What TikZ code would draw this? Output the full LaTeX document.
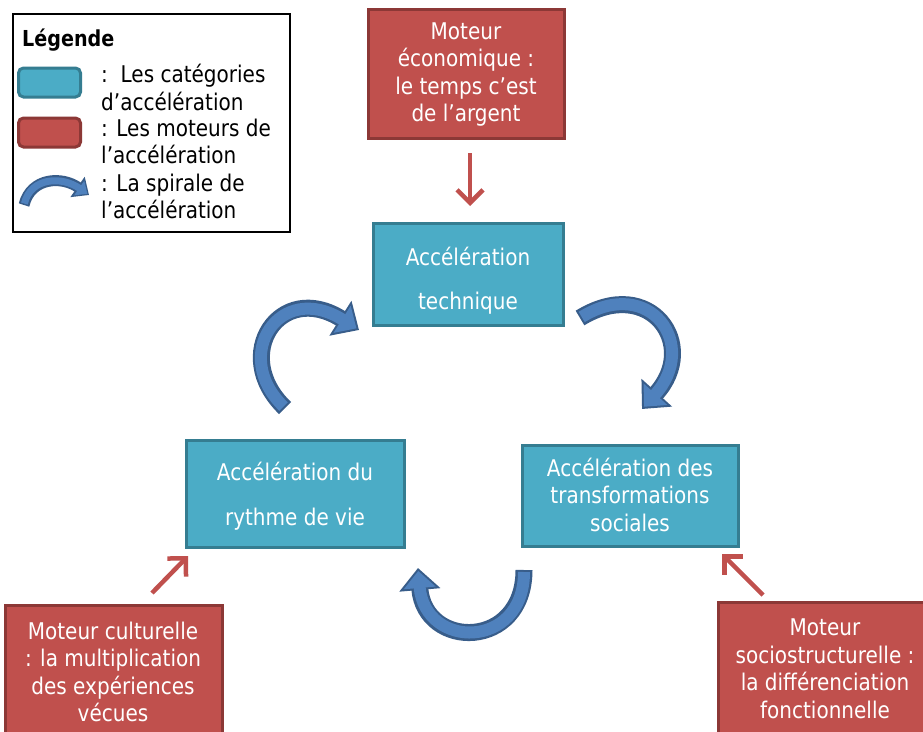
\documentclass[tikz,border=0pt]{standalone}
\usepackage{fontspec}
\setmainfont{DejaVu Sans}[FakeStretch=0.87]
\usetikzlibrary{arrows.meta}
\definecolor{cyanfill}{HTML}{4BACC6}
\definecolor{cyanline}{HTML}{357D91}
\definecolor{redfill}{HTML}{C0504D}
\definecolor{redline}{HTML}{8C3836}
\definecolor{bluefill}{HTML}{4F81BD}
\definecolor{blueline}{HTML}{385D8A}
\newcommand\spiralarrow[1]{%
  \draw[spiraldark] #1;
  \draw[spirallight] #1;}
\newcommand\smallspiral[1]{%
  \draw[smalldark] #1;
  \draw[smalllight] #1;}
\begin{document}
\begin{tikzpicture}[x=1pt,y=-1pt,
  txt/.style={font=\fontsize{23}{27.5}\selectfont, align=center, text=white, inner sep=0pt},
  legtxt/.style={font=\fontsize{23}{27.5}\selectfont, align=left, text=black, inner sep=0pt, anchor=west},
  catbox/.style={draw=cyanline, fill=cyanfill, line width=3pt, inner sep=0pt},
  motbox/.style={draw=redline, fill=redfill, line width=3pt, inner sep=0pt},
  redarrow/.style={draw=redfill, line width=4.5pt, -{Straight Barb[length=13pt,width=26pt]}},
  spiraldark/.style={draw=blueline, line width=17pt, -{Triangle[length=22pt,width=40pt,color=blueline]}},
  spirallight/.style={draw=bluefill, line width=12pt, shorten >=3pt, shorten <=2pt, -{Triangle[length=17pt,width=31pt,color=bluefill]}},
  smalldark/.style={draw=blueline, line width=11pt, -{Triangle[length=14pt,width=24pt,color=blueline]}},
  smalllight/.style={draw=bluefill, line width=7pt, shorten >=2pt, shorten <=1.5pt, -{Triangle[length=10pt,width=17pt,color=bluefill]}}
]
\clip (0,0) rectangle (923,731);
\fill[white] (0,0) rectangle (923,731);

% legend
\node[draw=black, line width=2pt, fill=white, minimum width=277, minimum height=218, inner sep=0pt] (legend) at (151.5,123) {};
\node[font=\bfseries\fontsize{22}{27.5}\selectfont, anchor=west, inner sep=0pt] (legtitle) at (22,40) {Légende};
\node[catbox, rounded corners=5pt, minimum width=62, minimum height=29] (legcat) at (49.5,82.5) {};
\node[motbox, rounded corners=5pt, minimum width=62, minimum height=29] (legmot) at (49.5,132.5) {};
\coordinate (ls1) at (24,205);
\coordinate (ls2) at (89,195);
\smallspiral{(ls1) .. controls (31,177) and (62,176) .. (ls2)}
\node[legtxt] (lt1) at (101,87.5) {:\ \ Les catégories\\d’accélération};
\node[legtxt] (lt2) at (101,141.5) {: Les moteurs de\\l’accélération};
\node[legtxt] (lt3) at (101,196.5) {: La spirale de\\l’accélération};

% boxes
\node[motbox, minimum width=196, minimum height=129] (eco) at (466,73.5) {};
\node[txt] (ecot) at (466,74.5) {Moteur\\économique :\\le temps c’est\\de l’argent};

\node[catbox, minimum width=190, minimum height=102] (tech) at (468,274) {};
\node[txt] (techt) at (468,281) {Accélération\\[16.5pt]technique};

\node[catbox, minimum width=218, minimum height=107] (ryth) at (295,493.5) {};
\node[txt] (rytht) at (295,496) {Accélération du\\[17pt]rythme de vie};

\node[catbox, minimum width=216, minimum height=101] (transf) at (630,495.5) {};
\node[txt] (transft) at (630,494.5) {Accélération des\\transformations\\sociales};

\node[motbox, minimum width=217, minimum height=134] (cult) at (113.5,672) {};
\node[txt] (cultt) at (113,672) {Moteur culturelle\\: la multiplication\\des expériences\\vécues};

\node[motbox, minimum width=214, minimum height=134] (socio) at (825,669) {};
\node[txt] (sociot) at (825,669) {Moteur\\sociostructurelle :\\la différenciation\\fonctionnelle};

% red arrows
\coordinate (r1a) at (470,153);
\coordinate (r1b) at (470,206);
\coordinate (r2a) at (152,593);
\coordinate (r2b) at (188,556);
\coordinate (r3a) at (763,595);
\coordinate (r3b) at (722,554);
\draw[redarrow] (r1a) -- (r1b);
\draw[redarrow] (r2a) -- (r2b);
\draw[redarrow] (r3a) -- (r3b);

% spiral arrows
\coordinate (s1a) at (285,408);
\coordinate (s1b) at (359,330);
\coordinate (s2a) at (580,318);
\coordinate (s2b) at (642,409);
\coordinate (s3a) at (524,570);
\coordinate (s3b) at (418,568);
\spiralarrow{(s1a) .. controls (230,355) and (280,280) .. (s1b)}
\spiralarrow{(s2a) .. controls (650,275) and (700,345) .. (s2b)}
\spiralarrow{(s3a) .. controls (524,650) and (425,650) .. (s3b)}
\end{tikzpicture}
\end{document}
